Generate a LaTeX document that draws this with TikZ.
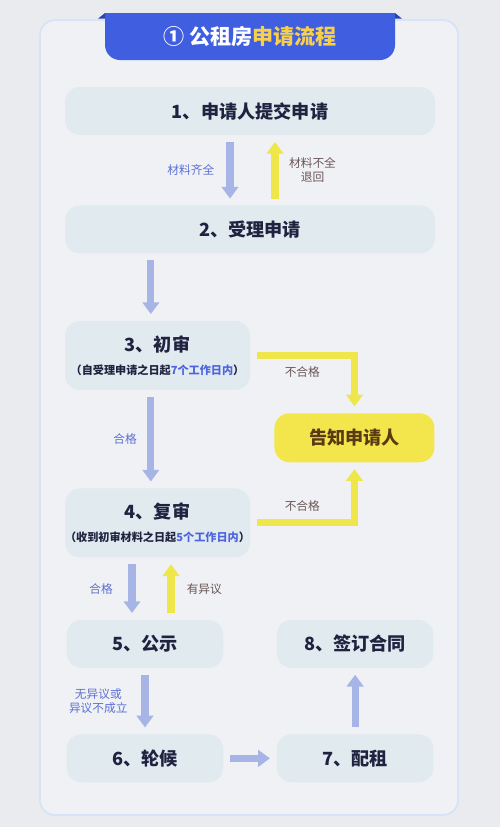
\documentclass[tikz,border=0pt]{standalone}
\usepackage{fontspec}
\setmainfont{Noto Sans CJK SC}
\usepackage{xcolor}
\usepackage{tikz}
\usetikzlibrary{arrows.meta,positioning}

\definecolor{pagebg}{HTML}{E9EBEE}
\definecolor{cardfill}{HTML}{EFF1F4}
\definecolor{cardline}{HTML}{D6E4F5}
\definecolor{stepfill}{HTML}{E0EAEF}
\definecolor{navy}{HTML}{1F2340}
\definecolor{bannerblue}{HTML}{3F5FE0}
\definecolor{bannerdark}{HTML}{2C44B0}
\definecolor{titleyellow}{HTML}{F7CF4B}
\definecolor{arrowblue}{HTML}{A7B4E6}
\definecolor{arrowyellow}{HTML}{EEE64A}
\definecolor{noticefill}{HTML}{F3E64C}
\definecolor{noticetext}{HTML}{5A3A12}
\definecolor{labelblue}{HTML}{5D6FD3}
\definecolor{labelbrown}{HTML}{6A5656}
\definecolor{timeblue}{HTML}{4D63E0}

\newcommand{\subnote}{\bfseries\fontsize{9.5}{12}\selectfont}

\begin{document}
\begin{tikzpicture}[
    stepbox/.style={rounded corners=0.45cm, fill=stepfill, text=navy, align=center, minimum height=1.44cm, font=\bfseries\fontsize{15.5}{18}\selectfont},
    wide/.style={stepbox, minimum width=11.1cm},
    half/.style={stepbox, minimum width=4.7cm},
    review/.style={stepbox, minimum width=5.55cm, minimum height=2.07cm, inner xsep=0pt},
    notice/.style={stepbox, fill=noticefill, text=noticetext, minimum width=4.8cm, minimum height=1.47cm},
    bluearrow/.style={draw=arrowblue, line width=6pt, -{Triangle[width=14pt,length=10pt]}, shorten <=0.2cm, shorten >=0.2cm},
    yellowarrow/.style={bluearrow, draw=arrowyellow},
    tag/.style={font=\fontsize{10}{12}\selectfont, text=labelblue, align=center},
    back/.style={tag, text=labelbrown}
]

\fill[pagebg] (0,0) rectangle (15,-24.81);
\useasboundingbox (0,0) rectangle (15,-24.81);
\draw[draw=cardline, line width=1.5pt, fill=cardfill, rounded corners=0.45cm] (1.2,-0.6) rectangle (13.74,-24.45);

\fill[bannerblue] (3.15,-0.39) [rounded corners=0.45cm] -- (3.15,-1.8) -- (11.85,-1.8) [sharp corners] -- (11.85,-0.39) -- cycle;
\fill[bannerdark] (2.94,-0.56) -- (3.15,-0.39) -- (3.15,-0.56) -- cycle;
\fill[bannerdark] (12.06,-0.56) -- (11.85,-0.39) -- (11.85,-0.56) -- cycle;
\node[text=white, font=\bfseries\fontsize{18}{20}\selectfont] (title) at (7.5,-1.11) {① 公租房\textcolor{titleyellow}{申请流程}};

\node[wide] (apply) at (7.5,-3.33) {1、申请人提交申请};
\node[wide, below=2.1cm of apply] (accept) {2、受理申请};
\node[review, below=2.01cm of accept, xshift=-2.775cm] (first) {3、初审\\[2pt]{\subnote （自受理申请之日起\textcolor{timeblue}{7个工作日内}）}};
\node[review, below=2.94cm of first] (second) {4、复审\\[2pt]{\subnote （收到初审材料之日起\textcolor{timeblue}{5个工作日内}）}};
\node[notice, right=0.72cm of first, yshift=-2.47cm] (notify) {告知申请人};

\node[half, below=1.86cm of second, xshift=-0.375cm] (publish) {5、公示};
\node[half, below=1.98cm of publish] (wait) {6、轮候};
\node[half, right=1.59cm of wait] (rent) {7、配租};
\node[half, right=1.59cm of publish] (sign) {8、签订合同};

\draw[bluearrow] ([xshift=-0.6cm]apply.south) -- node[tag, left=0.25cm] {材料齐全} ([xshift=-0.6cm]accept.north);
\draw[yellowarrow] ([xshift=0.75cm]accept.north) -- node[back, right=0.2cm] {材料不全\\退回} ([xshift=0.75cm]apply.south);

\draw[bluearrow] ([xshift=-0.2cm]first.north |- accept.south) -- ([xshift=-0.2cm]first.north);
\draw[bluearrow] ([xshift=-0.2cm]first.south) -- node[tag, left=0.2cm] {合格} ([xshift=-0.2cm]second.north);

\draw[yellowarrow] (first.east) -| node[back, pos=0.25, below=0.12cm] {不合格} (notify.north);
\draw[yellowarrow] (second.east) -| node[back, pos=0.25, above=0.12cm] {不合格} (notify.south);

\draw[bluearrow] ([xshift=-0.39cm]publish.north |- second.south) -- node[tag, left=0.35cm] {合格} ([xshift=-0.39cm]publish.north);
\draw[yellowarrow] ([xshift=0.78cm]publish.north) -- node[back, right=0.25cm] {有异议} ([xshift=0.78cm]publish.north |- second.south);

\draw[bluearrow] (publish) -- node[tag, left=0.3cm] {无异议或\\异议不成立} (wait);
\draw[bluearrow] (wait) -- (rent);
\draw[bluearrow] (rent) -- (sign);

\end{tikzpicture}
\end{document}
